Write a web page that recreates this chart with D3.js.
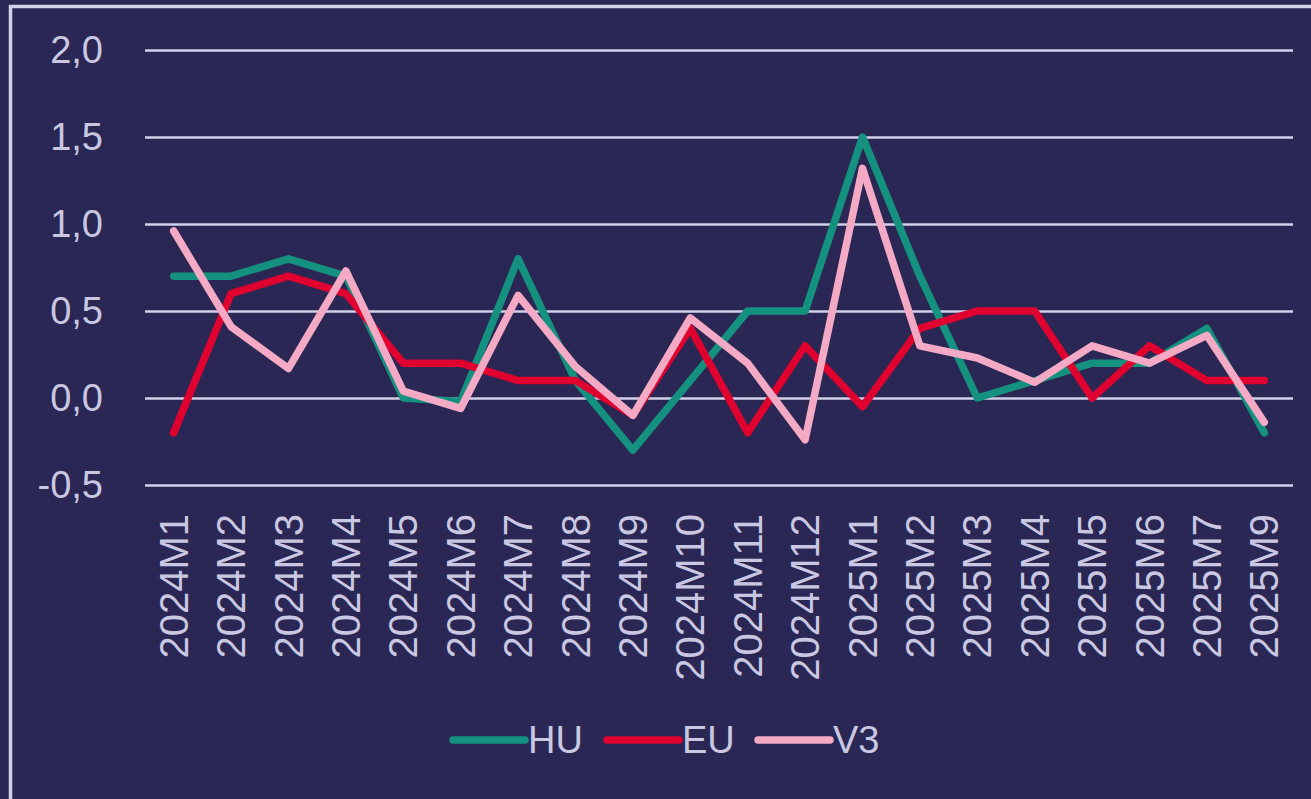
<!DOCTYPE html>
<html>
<head>
<meta charset="utf-8">
<script src="https://cdn.jsdelivr.net/npm/d3@7"></script>
<style>
  html, body { margin: 0; padding: 0; background: #2a2754; overflow: hidden; }
  svg { display: block; }
</style>
</head>
<body>
<script>
// categories (months)
var months = ["2024M1","2024M2","2024M3","2024M4","2024M5","2024M6","2024M7","2024M8","2024M9","2024M10",
              "2024M11","2024M12","2025M1","2025M2","2025M3","2025M4","2025M5","2025M6","2025M7","2025M9"];

// series values
var huValues = [0.7, 0.7, 0.8, 0.7, 0.0, -0.02, 0.8, 0.1, -0.3, 0.1, 0.5, 0.5, 1.5, 0.7, 0.0, 0.1, 0.2, 0.2, 0.4, -0.2];
var euValues = [-0.2, 0.6, 0.7, 0.6, 0.2, 0.2, 0.1, 0.1, -0.1, 0.4, -0.2, 0.3, -0.05, 0.4, 0.5, 0.5, 0.0, 0.3, 0.1, 0.1];
var v3Values = [0.96, 0.41, 0.17, 0.73, 0.04, -0.06, 0.59, 0.18, -0.1, 0.46, 0.2, -0.24, 1.32, 0.3, 0.23, 0.09, 0.3, 0.2, 0.36, -0.14];

var seriesNames = ["HU", "EU", "V3"];
var yTicks = [-0.5, 0, 0.5, 1, 1.5, 2];

var w = 1311;
var h = 799;
var bg = "#2a2754";
var light = "#d3d0ea";
var textCol = "#c9c7e1";
var colors = { HU: "#14917f", EU: "#e0002f", V3: "#f4a9c4" };

var series = [
  { name: "HU", values: huValues },
  { name: "EU", values: euValues },
  { name: "V3", values: v3Values }
];

var svg = d3.select("body")
            .append("svg")
            .attr("width", w)
            .attr("height", h);

svg.append("rect")
   .attr("width", w)
   .attr("height", h)
   .attr("fill", bg);

// outer frame (cut at right / bottom)
svg.append("rect")
   .attr("x", 10.5)
   .attr("y", 6.5)
   .attr("width", w + 20)
   .attr("height", h + 20)
   .attr("fill", "none")
   .attr("stroke", light)
   .attr("stroke-width", 3.5);

var xScale = d3.scaleBand()
               .domain(months)
               .range([145, 1293]);

var yScale = d3.scaleLinear()
               .domain([-0.5, 2])
               .range([485, 50]);

var fmt = function(d) { return d3.format(".1f")(d).replace(".", ",").replace("−", "-"); };

// gridlines + y labels
var yAxis = d3.axisLeft(yScale)
              .tickValues(yTicks)
              .tickSize(-(1293 - 145))
              .tickPadding(42)
              .tickFormat(fmt);

var gy = svg.append("g")
            .attr("transform", "translate(145,0)")
            .call(yAxis);
gy.select(".domain").remove();
gy.selectAll(".tick line")
  .attr("stroke", light)
  .attr("stroke-width", 2.5);
gy.selectAll(".tick text")
  .attr("fill", textCol)
  .attr("font-family", "Liberation Sans, Arial, sans-serif")
  .attr("font-size", "38px");

// x labels, rotated
var xAxis = d3.axisBottom(xScale)
              .tickSize(0)
              .tickPadding(0);
var gx = svg.append("g")
            .attr("transform", "translate(0,514)")
            .call(xAxis);
gx.select(".domain").remove();
gx.selectAll(".tick text")
  .attr("fill", textCol)
  .attr("font-family", "Liberation Sans, Arial, sans-serif")
  .attr("font-size", "40px")
  .attr("text-anchor", "end")
  .attr("dy", "0.35em")
  .attr("transform", "rotate(-90)")
  .attr("x", 0)
  .attr("y", 0);

// lines
var line = d3.line()
             .x(function(d, i) { return xScale(months[i]) + xScale.bandwidth() / 2; })
             .y(function(d) { return yScale(d); });

svg.selectAll("path.series")
   .data(series)
   .enter()
   .append("path")
   .attr("class", "series")
   .attr("d", function(d) { return line(d.values); })
   .attr("fill", "none")
   .attr("stroke", function(d) { return colors[d.name]; })
   .attr("stroke-width", 7.5)
   .attr("stroke-linejoin", "round")
   .attr("stroke-linecap", "round");

// legend
var legendX = [453, 607, 758];
var legend = svg.selectAll("g.legend")
                .data(seriesNames)
                .enter()
                .append("g")
                .attr("class", "legend")
                .attr("transform", function(d, i) { return "translate(" + legendX[i] + ",740)"; });

legend.append("line")
      .attr("x1", 0)
      .attr("x2", 72)
      .attr("stroke", function(d) { return colors[d]; })
      .attr("stroke-width", 7.5)
      .attr("stroke-linecap", "round");

legend.append("text")
      .text(function(d) { return d; })
      .attr("x", 75)
      .attr("dy", "0.35em")
      .attr("fill", textCol)
      .attr("font-family", "Liberation Sans, Arial, sans-serif")
      .attr("font-size", "38px");
</script>
</body>
</html>
